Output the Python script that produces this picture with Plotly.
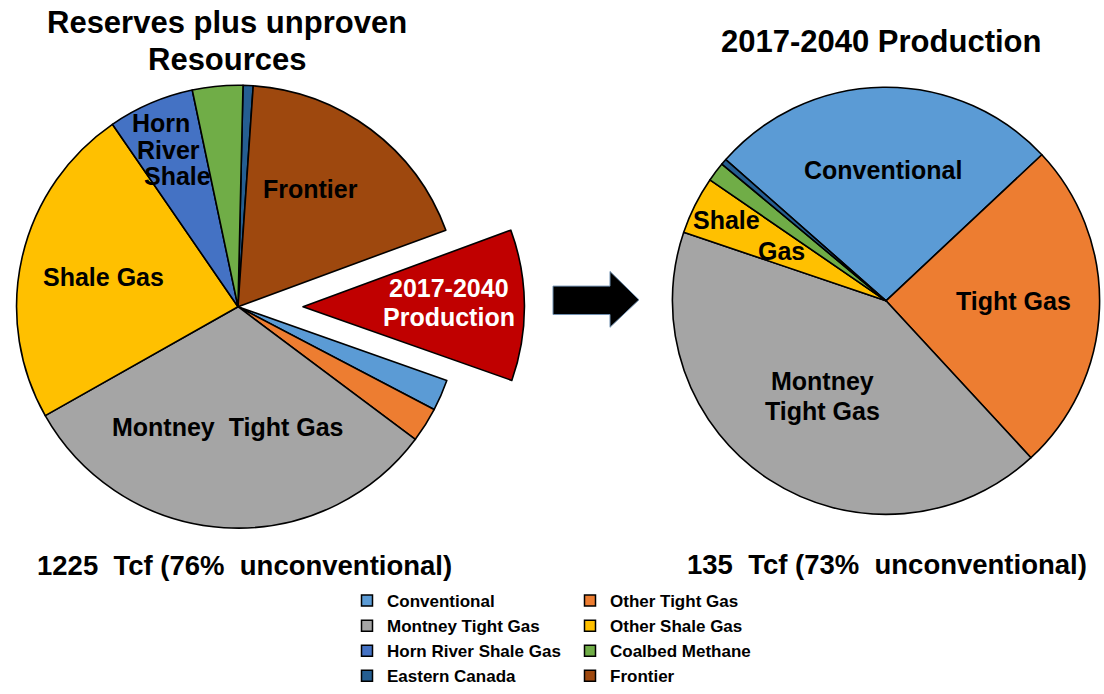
import plotly.graph_objects as go

W, H = 1104, 694

# Reserves plus unproven resources (Tcf), listed clockwise from 12 o'clock
res_labels = ["Eastern Canada", "Frontier", "2017-2040 Production", "Conventional",
              "Other Tight Gas", "Montney Tight Gas", "Other Shale Gas",
              "Horn River Shale Gas", "Coalbed Methane"]
res_values = [9, 224, 135, 28, 31, 387, 289, 77, 45]

# 2017-2040 production (Tcf), listed clockwise
prod_labels = ["Conventional", "Other Tight Gas", "Montney Tight Gas",
               "Other Shale Gas", "Coalbed Methane", "Eastern Canada"]
prod_values = [35.8, 33.9, 56.8, 5.9, 2.0, 0.6]

# Legend layout: two columns
legend_col1 = ["Conventional", "Montney Tight Gas", "Horn River Shale Gas", "Eastern Canada"]
legend_col2 = ["Other Tight Gas", "Other Shale Gas", "Coalbed Methane", "Frontier"]

colors = {
    "Conventional": "#5B9BD5",
    "Other Tight Gas": "#ED7D31",
    "Montney Tight Gas": "#A5A5A5",
    "Other Shale Gas": "#FFC000",
    "Horn River Shale Gas": "#4472C4",
    "Coalbed Methane": "#70AD47",
    "Eastern Canada": "#255E91",
    "Frontier": "#9E480E",
    "2017-2040 Production": "#C00000",
}
CLEAR = "rgba(0,0,0,0)"
FONT = "Liberation Sans, Arial, sans-serif"
HIGHLIGHT = "2017-2040 Production"


def px_domain(cx, cy, r):
    """Pie domain for a circle of radius r centred at pixel (cx, cy)."""
    return dict(x=[(cx - r) / W, (cx + r) / W], y=[(H - cy - r) / H, (H - cy + r) / H])


def px(x, y):
    return x / W, (H - y) / H


fig = go.Figure()

# Left pie: every slice except the production wedge, which is drawn pulled out below
fig.add_trace(go.Pie(
    labels=res_labels, values=res_values, sort=False, direction="clockwise",
    rotation=1.3, textinfo="none", showlegend=False,
    domain=px_domain(238, 313, 226),
    marker=dict(
        colors=[CLEAR if l == HIGHLIGHT else colors[l] for l in res_labels],
        line=dict(color="black",
                  width=[0 if l == HIGHLIGHT else 1.6 for l in res_labels]),
    ),
))

# Exploded production wedge: same pie, shifted right, only that slice visible
fig.add_trace(go.Pie(
    labels=res_labels, values=res_values, sort=False, direction="clockwise",
    rotation=1.3, textinfo="none", showlegend=False,
    domain=px_domain(303, 313, 226),
    marker=dict(
        colors=[colors[l] if l == HIGHLIGHT else CLEAR for l in res_labels],
        line=dict(color="black",
                  width=[1.6 if l == HIGHLIGHT else 0 for l in res_labels]),
    ),
))

# Right pie: production split
fig.add_trace(go.Pie(
    labels=prod_labels, values=prod_values, sort=False, direction="clockwise",
    rotation=-48.6, textinfo="none", showlegend=False,
    domain=px_domain(886, 307, 218),
    marker=dict(colors=[colors[l] for l in prod_labels],
                line=dict(color="black", width=1.6)),
))

# Legend entries (two columns)
for col, name_list in (("legend", legend_col1), ("legend2", legend_col2)):
    for name in name_list:
        fig.add_trace(go.Scatter(
            x=[None], y=[None], mode="markers", name=name, legend=col,
            marker=dict(symbol="square", size=11, color=colors[name],
                        line=dict(color="black", width=1.5)),
        ))


def label(x, y, text, size=25, color="black"):
    ax, ay = px(x, y)
    fig.add_annotation(x=ax, y=ay, xref="paper", yref="paper", text=text,
                       showarrow=False, xanchor="center", yanchor="middle",
                       font=dict(family=FONT, size=size, color=color, weight="bold"))


# Titles
label(227, 23, "Reserves plus unproven", size=31)
label(227, 61, "Resources", size=31)
label(881, 42, "2017-2040 Production", size=31)

# Slice labels, left pie
label(310, 193, "Frontier")
label(161, 126, "Horn")
label(168, 153, "River")
label(177, 180, "Shale")
label(103, 283, "Shale Gas")
label(228, 436, "Montney\u00a0\u00a0Tight Gas")
label(449, 294, "2017-2040", color="white")
label(449, 324, "Production", color="white")

# Slice labels, right pie
label(883, 173, "Conventional")
label(1013, 307, "Tight Gas")
label(726, 225, "Shale")
label(781, 256, "Gas")
label(822, 389, "Montney")
label(822, 419, "Tight Gas")

# Totals beneath each pie
label(245, 577, "1225\u00a0\u00a0Tcf (76%\u00a0\u00a0unconventional)", size=27.5)
label(887, 576, "135\u00a0\u00a0Tcf (73%\u00a0\u00a0unconventional)", size=27.5)

# Arrow linking the two pies
pts = [(553, 292), (610, 292), (610, 277), (639, 306), (610, 334), (610, 321), (553, 321)]
path = "M " + " L ".join(f"{px(x, y)[0]:.5f},{px(x, y)[1]:.5f}" for x, y in pts) + " Z"
fig.add_shape(type="path", path=path, xref="paper", yref="paper",
              fillcolor="black", line=dict(color="#6F8FAF", width=1))

legend_style = dict(
    orientation="v", xanchor="left", yanchor="top", bgcolor=CLEAR,
    font=dict(family=FONT, size=17, color="black", weight="bold"),
    itemclick=False, itemdoubleclick=False, tracegroupgap=0,
)
fig.update_layout(
    width=W, height=H, autosize=False,
    margin=dict(l=0, r=0, t=0, b=0),
    paper_bgcolor="white", plot_bgcolor=CLEAR,
    xaxis=dict(visible=False), yaxis=dict(visible=False),
    legend=dict(x=347 / W, y=(H - 595) / H, **legend_style),
    legend2=dict(x=570 / W, y=(H - 595) / H, **legend_style),
)

fig.write_html("out.html")
